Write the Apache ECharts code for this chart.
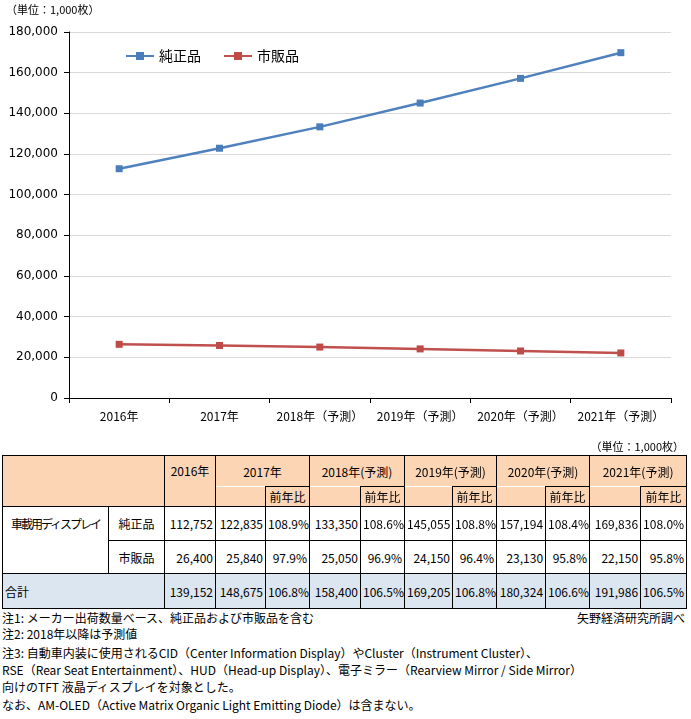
<!DOCTYPE html>
<html>
<head>
<meta charset="utf-8">
<script src="https://cdn.jsdelivr.net/npm/echarts@6/dist/echarts.min.js"></script>
<style>
  html, body { margin: 0; padding: 0; background: #fff; }
  body { width: 691px; height: 719px; position: relative; overflow: hidden;
         font-family: "Noto Sans CJK JP", sans-serif; color: #000; }
  #container { position: absolute; left: 0; top: 0; width: 691px; height: 440px; }
  #unit2 { position: absolute; right: 7px; top: 438px; font-size: 11px; }
  #tbl { position: absolute; left: 2px; top: 455px; width: 684px; border-collapse: collapse;
         table-layout: fixed; font-size: 12px; }
  #tbl td { border: 1px solid #000; padding: 0 2px; white-space: nowrap; overflow: hidden; }
  #tbl .hd { background: #fcd5b4; text-align: center; }
  #tbl .tot { background: #dce6f1; }
  #tbl .num { text-align: right; }
  .note { position: absolute; left: 2px; font-size: 12px; white-space: nowrap; }
</style>
</head>
<body>
<div id="container"></div>
<div id="unit2">（単位：1,000枚）</div>
<table id="tbl"></table>
<div class="note" style="top:609px">注1: メーカー出荷数量ベース、純正品および市販品を含む</div>
<div class="note" style="top:609px; left:auto; right:6px">矢野経済研究所調べ</div>
<div class="note" style="top:625px">注2: 2018年以降は予測値</div>
<div class="note" style="top:644px">注3: 自動車内装に使用されるCID（Center Information Display）やCluster（Instrument Cluster）、</div>
<div class="note" style="top:661px">RSE（Rear Seat Entertainment）、HUD（Head-up Display）、電子ミラー（Rearview Mirror / Side Mirror）</div>
<div class="note" style="top:678px">向けのTFT 液晶ディスプレイを対象とした。</div>
<div class="note" style="top:696px">なお、AM-OLED（Active Matrix Organic Light Emitting Diode）は含まない。</div>
<script>
// 年（軸ラベル・表ヘッダ）
var years = ['2016年', '2017年', '2018年（予測）', '2019年（予測）', '2020年（予測）', '2021年（予測）'];
// 純正品
var junsei = [112752, 122835, 133350, 145055, 157194, 169836];
var junseiRatio = [null, '108.9%', '108.6%', '108.8%', '108.4%', '108.0%'];
// 市販品
var shihan = [26400, 25840, 25050, 24150, 23130, 22150];
var shihanRatio = [null, '97.9%', '96.9%', '96.4%', '95.8%', '95.8%'];
// 合計
var total = [139152, 148675, 158400, 169205, 180324, 191986];
var totalRatio = [null, '106.8%', '106.5%', '106.8%', '106.6%', '106.5%'];

var colW = [106, 56, 51, 50, 44, 51, 44, 48, 44, 49, 44, 51, 46];
var rowH = [31, 20, 34, 33, 35];

function fmt(v) { return v.toLocaleString('en-US'); }

// 表を組み立てる
function buildTable() {
  var t = document.getElementById('tbl');
  var html = '<colgroup>' + colW.map(function (w) { return '<col style="width:' + w + 'px">'; }).join('') + '</colgroup>';
  // header row 1
  html += '<tr style="height:' + rowH[0] + 'px"><td class="hd" colspan="2" rowspan="2"></td>';
  html += '<td class="hd" rowspan="2" style="vertical-align:top;padding-top:6px">' + years[0] + '</td>';
  for (var i = 1; i < years.length; i++) {
    html += '<td class="hd" colspan="2" style="border-bottom:none">' + years[i].replace('（', '(').replace('）', ')') + '</td>';
  }
  html += '</tr><tr style="height:' + rowH[1] + 'px">';
  for (var j = 1; j < years.length; j++) {
    html += '<td class="hd" style="border-top:none"></td><td class="hd" style="border-top:1px solid #000">前年比</td>';
  }
  html += '</tr>';
  // 純正品
  html += '<tr style="height:' + rowH[2] + 'px"><td style="text-align:center;border-bottom:none;letter-spacing:-2px">車載用ディスプレイ</td><td style="text-align:center">純正品</td>';
  junsei.forEach(function (v, k) {
    html += '<td class="num">' + fmt(v) + '</td>';
    if (junseiRatio[k]) html += '<td class="num">' + junseiRatio[k] + '</td>';
  });
  html += '</tr>';
  // 市販品
  html += '<tr style="height:' + rowH[3] + 'px"><td style="border-top:none"></td><td style="text-align:center">市販品</td>';
  shihan.forEach(function (v, k) {
    html += '<td class="num">' + fmt(v) + '</td>';
    if (shihanRatio[k]) html += '<td class="num">' + shihanRatio[k] + '</td>';
  });
  html += '</tr>';
  // 合計
  html += '<tr style="height:' + rowH[4] + 'px"><td class="tot" colspan="2">合計</td>';
  total.forEach(function (v, k) {
    html += '<td class="tot num">' + fmt(v) + '</td>';
    if (totalRatio[k]) html += '<td class="tot num">' + totalRatio[k] + '</td>';
  });
  html += '</tr>';
  t.innerHTML = html;
}
buildTable();

var dom = document.getElementById('container');
var myChart = echarts.init(dom, null, { renderer: 'canvas' });

var option = {
  animation: false,
  textStyle: { fontFamily: '"Noto Sans CJK JP", sans-serif' },
  graphic: [{
    type: 'text', left: 6, top: 4,
    style: { text: '（単位：1,000枚）', fontSize: 11, fill: '#000', fontFamily: '"Noto Sans CJK JP", sans-serif' }
  }],
  legend: {
    left: 120, top: 44,
    itemWidth: 28, itemHeight: 10, itemGap: 22,
    textStyle: { fontSize: 14, color: '#000' },
    data: ['純正品', '市販品']
  },
  grid: { left: 69, right: 20, top: 32, bottom: 42 },
  xAxis: {
    type: 'category',
    data: years,
    boundaryGap: true,
    axisLine: { lineStyle: { color: '#000', width: 1 } },
    axisTick: { show: true, length: 5, lineStyle: { color: '#000' } },
    axisLabel: { fontSize: 12, color: '#000', margin: 12, interval: 0 }
  },
  yAxis: {
    type: 'value',
    min: 0, max: 180000, interval: 20000,
    axisLine: { show: true, lineStyle: { color: '#000', width: 1 } },
    axisTick: { show: true, length: 5, lineStyle: { color: '#000' } },
    axisLabel: { fontSize: 12, color: '#000', margin: 11, fontFamily: '"DejaVu Sans", sans-serif', formatter: fmt },
    splitLine: { lineStyle: { color: '#d9d9d9' } }
  },
  series: [{
    name: '純正品', type: 'line', data: junsei,
    symbol: 'rect', symbolSize: 7,
    itemStyle: { color: '#4a7ebb' },
    lineStyle: { color: '#4f81bd', width: 2.5 }
  }, {
    name: '市販品', type: 'line', data: shihan,
    symbol: 'rect', symbolSize: 7,
    itemStyle: { color: '#be4b48' },
    lineStyle: { color: '#c0504d', width: 2.5 }
  }]
};

myChart.setOption(option);
window.addEventListener('resize', myChart.resize);
</script>
</body>
</html>
